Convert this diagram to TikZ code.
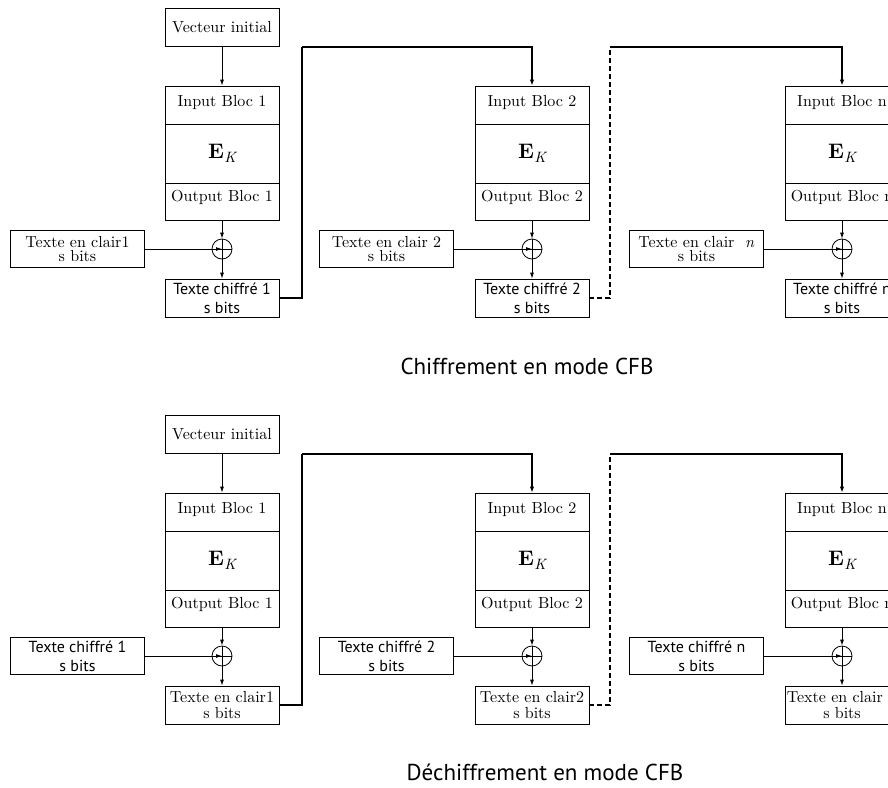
\documentclass[tikz,border=0pt]{standalone}
\usepackage{fontspec}
\setmainfont{lmroman10-regular.otf}[BoldFont=lmroman10-bold.otf, ItalicFont=lmroman10-italic.otf]
\newfontfamily\cfbsans{PT Sans}
\usetikzlibrary{arrows.meta}

% bold E with italic subscript K, set from the text fonts
\newcommand{\ekey}{{\bfseries E}\kern0.5pt\raisebox{-4.5pt}{\fontsize{15}{17}\selectfont\itshape K}}

\tikzset{
  cell/.style={draw, line width=0.8pt, minimum width=114pt, inner sep=0pt,
               font=\fontsize{16}{19}\selectfont},
  incell/.style={cell, minimum height=38pt, text depth=9pt},
  ekcell/.style={cell, minimum height=59pt, font=\fontsize{21}{24}\selectfont},
  outcell/.style={cell, minimum height=37pt, text depth=11pt},
  ivbox/.style={cell, minimum height=38pt},
  sidebox/.style={draw, line width=0.8pt, minimum width=134pt, minimum height=37pt,
                  inner sep=0pt, align=center},
  resbox/.style={draw, line width=0.8pt, minimum width=114pt, minimum height=38pt,
                 inner sep=0pt, align=center},
  serif/.style={font=\fontsize{16}{14.5}\selectfont},
  serifout/.style={font=\fontsize{16}{16.5}\selectfont},
  sans/.style={font=\cfbsans\fontsize{16}{19}\selectfont},
  xorc/.style={draw, circle, line width=0.8pt, minimum size=20pt, inner sep=0pt},
  arr/.style={line width=0.8pt, -{Latex[length=6pt,width=4pt]}},
  fb/.style={line width=1.2pt},
  fbarr/.style={line width=1.2pt, -{Latex[length=6pt,width=4.5pt]}},
  fbdash/.style={line width=1.2pt, dash pattern=on 5pt off 3pt},
  caption/.style={font=\cfbsans\fontsize{23}{27}\selectfont}
}

\begin{document}
\begin{tikzpicture}[x=1pt,y=-1pt]
\useasboundingbox (0,0) rectangle (888,787);
\clip (0,0) rectangle (888,787);

% ---------- encryption (top) ----------
\node[ivbox] (iv-t) at (222,27) {Vecteur initial};
\foreach \c/\x/\lab in {1/222/1, 2/532/2, 3/842/n} {
  \node[incell]  (in-t\c) at (\x,105)   {Input Bloc \lab};
  \node[ekcell]  (ek-t\c) at (\x,153.5) {\ekey};
  \node[outcell] (ob-t\c) at (\x,201.5) {Output Bloc \lab};
  \node[xorc]    (x-t\c)  at (\x,249)   {};
}
\node[sidebox, serif] (pl-t1) at (77.5,249)  {Texte en clair1\\s bits};
\node[sidebox, serif] (pl-t2) at (386.5,249) {Texte en clair 2\\s bits};
\node[sidebox, serif] (pl-t3) at (696.5,249) {Texte en clair~~\textit{n}\\s bits};
\node[resbox, sans] (ct-t1) at (222,298) {Texte chiffré 1\\s bits};
\node[resbox, sans] (ct-t2) at (532,298) {Texte chiffré 2\\s bits};
\node[resbox, sans] (ct-t3) at (842,298) {Texte chiffré n\\s bits};

\draw[arr] (iv-t) -- (in-t1);
\foreach \c in {1,2,3} {
  \draw[arr] (ob-t\c) -- (x-t\c.north);
  \draw[arr] (pl-t\c.east) -- (x-t\c.center);
  \draw[arr] (x-t\c.south) -- (ct-t\c);
  \draw[line width=0.8pt] (x-t\c.north) -- (x-t\c.south) (x-t\c.west) -- (x-t\c.east);
}
\coordinate (k-t1) at (302,47);
\coordinate (k-t2) at (610,47);
\draw[fb] (ct-t1.east) -| (k-t1);
\draw[fbarr] (k-t1) -| (in-t2.north);
\draw[fbdash] (ct-t2.east) -| (k-t2);
\draw[fbarr] (k-t2) -| (in-t3.north);

\node[caption] (cap-t) at (527,366) {Chiffrement en mode CFB};

% ---------- decryption (bottom) ----------
\node[ivbox] (iv-b) at (222,434) {Vecteur initial};
\foreach \c/\x/\lab in {1/222/1, 2/532/2, 3/842/n} {
  \node[incell]  (in-b\c) at (\x,512)   {Input Bloc \lab};
  \node[ekcell]  (ek-b\c) at (\x,560.5) {\ekey};
  \node[outcell] (ob-b\c) at (\x,608.5) {Output Bloc \lab};
  \node[xorc]    (x-b\c)  at (\x,656)   {};
}
\node[sidebox, sans] (ct-b1) at (77.5,656)  {Texte chiffré 1\\s bits};
\node[sidebox, sans] (ct-b2) at (386.5,656) {Texte chiffré 2\\s bits};
\node[sidebox, sans] (ct-b3) at (696.5,656) {Texte chiffré n\\s bits};
\node[resbox, serifout] (pl-b1) at (222,705) {Texte en clair1\\s bits};
\node[resbox, serifout] (pl-b2) at (532,705) {Texte en clair2\\s bits};
\node[resbox, serifout] (pl-b3) at (842,705) {Texte en clair n\\s bits};

\draw[arr] (iv-b) -- (in-b1);
\foreach \c in {1,2,3} {
  \draw[arr] (ob-b\c) -- (x-b\c.north);
  \draw[arr] (ct-b\c.east) -- (x-b\c.center);
  \draw[arr] (x-b\c.south) -- (pl-b\c);
  \draw[line width=0.8pt] (x-b\c.north) -- (x-b\c.south) (x-b\c.west) -- (x-b\c.east);
}
\coordinate (k-b1) at (302,454);
\coordinate (k-b2) at (610,454);
\draw[fb] (pl-b1.east) -| (k-b1);
\draw[fbarr] (k-b1) -| (in-b2.north);
\draw[fbdash] (pl-b2.east) -| (k-b2);
\draw[fbarr] (k-b2) -| (in-b3.north);

\node[caption] (cap-b) at (545,772) {Déchiffrement en mode CFB};
\end{tikzpicture}
\end{document}
